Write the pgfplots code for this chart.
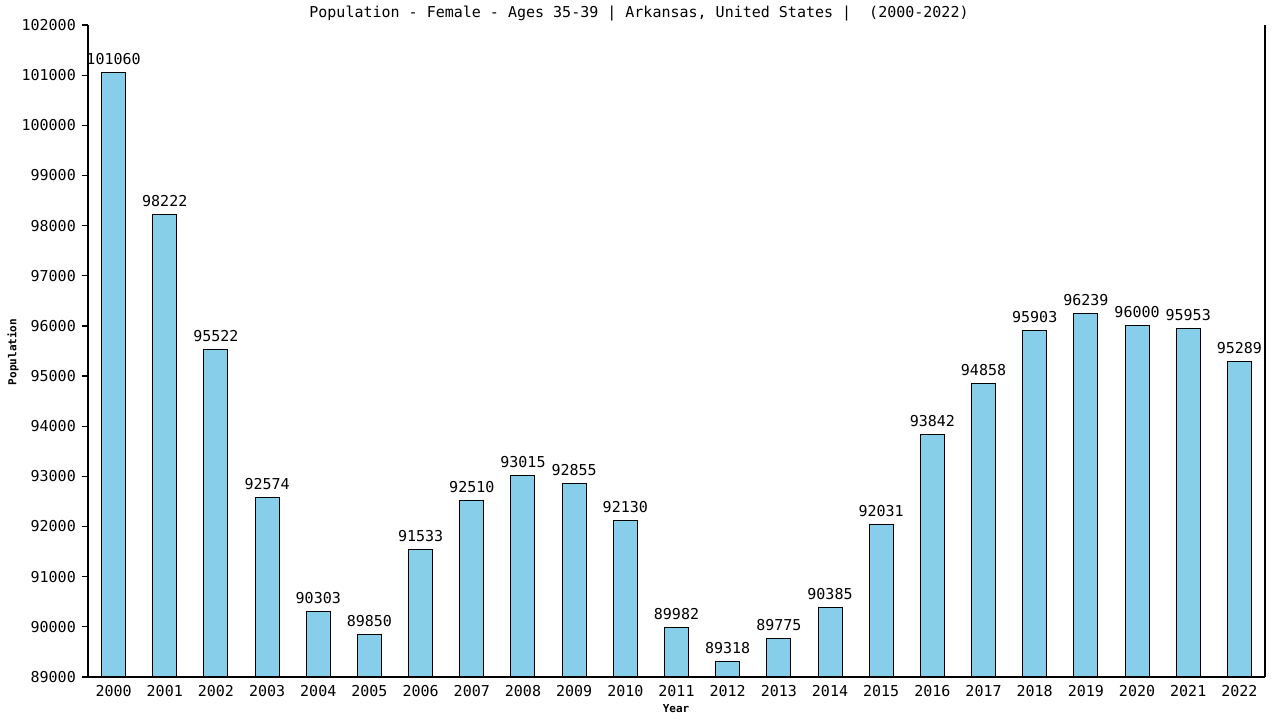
\documentclass[border=0pt]{standalone}
\usepackage{pgfplots}
\pgfplotsset{compat=1.18}
\usepackage{fontspec}
\setmainfont{DejaVu Sans Mono}
\definecolor{barfill}{RGB}{135,206,235}
\pgfplotstableread{
year value
2000 101060
2001 98222
2002 95522
2003 92574
2004 90303
2005 89850
2006 91533
2007 92510
2008 93015
2009 92855
2010 92130
2011 89982
2012 89318
2013 89775
2014 90385
2015 92031
2016 93842
2017 94858
2018 95903
2019 96239
2020 96000
2021 95953
2022 95289
}\datatable
\begin{document}
\begin{tikzpicture}[x=1pt,y=1pt]
\path[use as bounding box] (0,0) rectangle (1280,720);
\begin{axis}[
  at={(88pt,43pt)}, anchor=south west,
  scale only axis, width=1177pt, height=652pt,
  ymin=89000, ymax=102000, xmin=1999.5, xmax=2022.5,
  ytick distance=1000, xtick=data,
  scaled y ticks=false, scaled x ticks=false,
  /pgf/number format/.cd, fixed, precision=0, 1000 sep={}, assume math mode=true,
  /pgfplots/.cd,
  axis x line*=bottom, axis y line*=left,
  axis line style={line width=1.2pt, black},
  tick align=outside, major tick length=6pt,
  xtick style={draw=none},
  ytick style={line width=1.2pt, black},
  ticklabel style={font=\fontsize{15}{15}\selectfont},
  yticklabel style={anchor=east, inner sep=0pt, xshift=-6pt},
  xticklabel style={anchor=north, inner sep=0pt, yshift=-2pt},
  ybar, bar width=24pt,
  nodes near coords,
  nodes near coords style={font=\fontsize{15}{15}\selectfont, anchor=base, inner sep=0pt, yshift=8pt},
  clip=false,
]
\addplot[draw=black, line width=1pt, fill=barfill] table[x=year, y=value] {\datatable};
\draw[line width=1.2pt] (rel axis cs:1,0) -- (rel axis cs:1,1);
\end{axis}
\node[font=\fontsize{15}{15}\selectfont] at (639,706) {Population - Female - Ages 35-39 | Arkansas, United States |~ (2000-2022)};
\node[font=\fontsize{11}{12}\selectfont\bfseries] at (676,11) {Year};
\node[font=\fontsize{11}{12}\selectfont\bfseries, rotate=90] at (13,368) {Population};
\end{tikzpicture}
\end{document}
